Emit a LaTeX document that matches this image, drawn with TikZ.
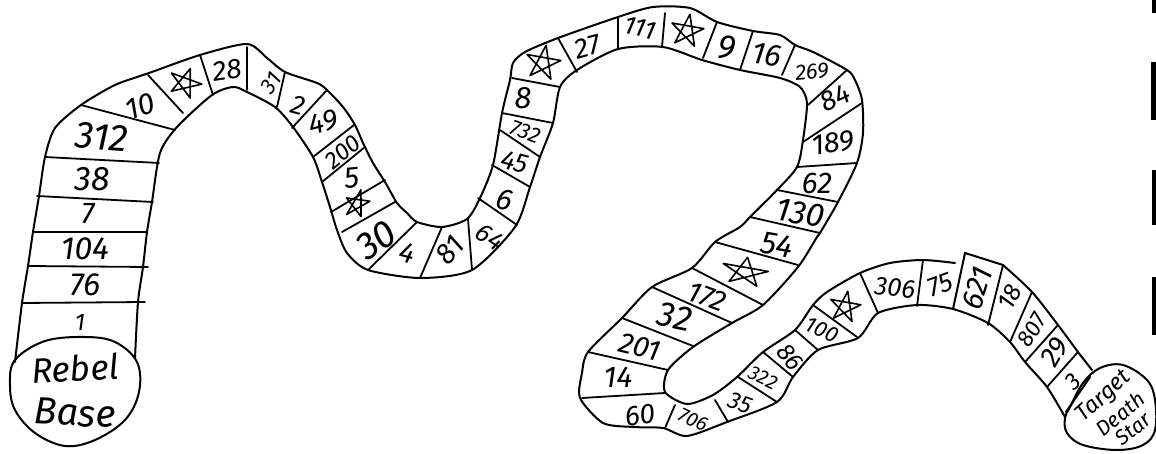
\documentclass[tikz,border=0pt]{standalone}
\usepackage{fontspec}
\setmainfont{Fira Sans}
\newcommand{\lab}[6]{\node[lbl,rotate=#5] (#1) at (#2,#3) {\fontsize{#4}{#4}\selectfont #6};}
\newcommand{\pentagram}[5]{\draw[ink,line width=1.6pt,shift={(#1,#2)},rotate=#4,yscale=#5] (90:#3pt) -- (234:#3pt) -- (18:#3pt) -- (162:#3pt) -- (306:#3pt) -- cycle;}
\tikzset{
  ink/.style={draw=black,line width=2pt,line join=round,line cap=round},
  lbl/.style={inner sep=0pt,font=\itshape,text=black},
  rung/.style={ink,line width=1.8pt},
  edgebar/.style={fill=black,draw=none}
}
\begin{document}
\begin{tikzpicture}[x=1pt,y=-1pt]
\useasboundingbox (0,0) rectangle (1156,454);
% outer edge of the track
\draw[ink] plot[smooth,tension=0.45] coordinates {
 (15,362)(22,303)(28,266)(33,232)(39,196)(45,157)(55,128)(81,105)(115,85)(149,73)(200,55)(247,44)
 (267,58)(285,72)(317,83)(327,90)(343,107)(355,125)(363,143)(373,163)(385,182)(397,203)(407,213)(417,222)
 (442,227)(467,219)(480,198)(493,165)(502,113)(510,80)(513,63)(525,52)(558,38)(618,17)(653,7)(690,8)
 (717,22)(753,31)(780,35)(795,45)(813,52)(847,70)(855,80)(862,100)(863,133)(857,163)(838,202)(820,233)
 (817,237)(798,267)(763,305)(732,323)(693,347)(668,370)(665,392)(687,404)(713,395)(737,377)(763,352)(795,330)
 (813,305)(827,292)(860,273)(890,263)(923,260)(955,263)};
\draw[ink] (965,253) -- (1003,265);
\draw[ink] (953,309) -- (965,253);
\draw[ink] plot[smooth,tension=0.45] coordinates {(1003,265)(1032,292)(1058,325)(1078,352)(1092,370)};
% inner edge of the track
\draw[ink] plot[smooth,tension=0.45] coordinates {
 (135,358)(138,302)(143,267)(147,232)(152,202)(160,153)(177,127)(212,95)(233,87)(247,92)(275,107)(293,127)
 (313,157)(322,182)(330,207)(337,230)(347,253)(368,270)(420,278)(472,270)(515,227)(530,187)(540,157)
 (553,123)(560,87)(577,70)(618,49)(663,47)(702,60)(740,70)(780,78)(800,87)(807,103)(803,140)(797,167)
 (777,190)(750,217)(740,227)(715,242)(692,268)(652,287)(622,318)(588,352)(582,373)(580,398)(603,423)
 (633,427)(663,428)(687,436)(727,422)(777,402)(793,377)(818,350)(858,338)(878,313)(917,305)(953,309)(988,323)
 (1010,342)(1025,362)(1047,387)(1065,417)};
% cross lines
\foreach \a/\b/\c/\d in {22/303/145/302,28/266/148/267,33/232/147/232,37/196/153/202,45/157/159/163,81/105/175/130,
 148/75/183/113,200/55/213/95,247/47/247/90,285/72/277/107,327/90/292/128,354/125/313/157,365/147/322/182,
 385/180/331/212,395/202/342/232,417/222/368/270,442/227/420/278,468/219/472/270,478/198/517/225,492/165/530/187,
 500/130/540/157,502/113/553/123,512/78/560/87,558/38/577/72,618/17/618/49,665/13/662/47,717/22/703/58,753/31/740/70,
 795/45/782/75,847/70/808/105,862/103/803/142,857/163/797/167,838/202/777/190,820/233/750/217,798/265/715/242,
 763/305/692/268,732/323/652/287,693/346/622/318,668/370/588/352,665/393/582/398,675/405/665/428,715/400/728/422,
 738/377/777/402,763/352/793/377,795/330/818/350,813/305/857/337,860/273/878/313,923/260/917/306,1003/265/988/325,
 1032/292/1010/342,1058/325/1025/362,1078/352/1047/387}
 {\draw[rung] (\a,\b) -- (\c,\d);}
% end circles
\draw[ink] plot[smooth cycle,tension=0.6] coordinates {(15,360)(45,341)(85,337)(115,342)(137,362)(139,392)(125,420)(95,440)(65,446)(35,433)(15,410)(10,385)};
\draw[ink] plot[smooth cycle,tension=0.6] coordinates {(1065,418)(1070,407)(1083,383)(1100,368)(1123,365)(1147,380)(1155,400)(1155,430)(1143,445)(1117,450)(1083,445)(1067,433)};
\draw[ink] (1066,412) -- (1090,377);
% scan marks at the right edge
\fill[edgebar] (1152,0) rectangle (1156,13);
\fill[edgebar] (1151,62) rectangle (1156,120);
\fill[edgebar] (1152,170) rectangle (1156,225);
\fill[edgebar] (1152,277) rectangle (1156,335);
% stars
\pentagram{185}{83}{17}{-20}{0.9}
\pentagram{357}{204}{15}{60}{0.8}
\pentagram{543}{63}{18}{-10}{1}
\pentagram{687}{31}{17}{-10}{1}
\pentagram{745}{272}{24}{-10}{0.62}
\pentagram{845}{307}{16}{-10}{1}
% labels
\lab{n1}{80}{322}{24}{0}{1}
\lab{n76}{85}{285}{32}{0}{76}
\lab{n104}{85}{249}{32}{0}{104}
\lab{n7}{88}{214}{30}{0}{7}
\lab{n38}{92}{179}{34}{0}{38}
\lab{n312}{102}{137}{38}{-4}{312}
\lab{n10}{140}{106}{30}{18}{10}
\lab{n28}{227}{70}{28}{8}{28}
\lab{n31}{271}{83}{22}{55}{31}
\lab{n2}{298}{105}{27}{-15}{2}
\lab{n49}{323}{122}{29}{15}{49}
\lab{n200}{343}{152}{24}{40}{200}
\lab{n5}{352}{178}{30}{5}{5}
\lab{n30}{376}{240}{38}{35}{30}
\lab{n4}{407}{253}{29}{-15}{4}
\lab{n81}{450}{250}{29}{50}{81}
\lab{n64}{490}{237}{26}{-35}{64}
\lab{n6}{505}{200}{30}{-15}{6}
\lab{n45}{515}{162}{27}{-15}{45}
\lab{n732}{525}{132}{22}{-20}{732}
\lab{n8}{523}{98}{31}{0}{8}
\lab{n27}{587}{47}{28}{15}{27}
\lab{n111}{640}{28}{26}{-15}{111}
\lab{n9}{727}{48}{34}{-8}{9}
\lab{n16}{767}{55}{31}{-10}{16}
\lab{n269}{812}{72}{22}{5}{269}
\lab{n84}{835}{98}{28}{25}{84}
\lab{n189}{833}{143}{29}{8}{189}
\lab{n62}{817}{183}{30}{0}{62}
\lab{n130}{800}{213}{33}{-10}{130}
\lab{n54}{777}{245}{32}{-10}{54}
\lab{n172}{707}{297}{29}{-20}{172}
\lab{n32}{675}{317}{35}{-12}{32}
\lab{n201}{640}{347}{29}{-14}{201}
\lab{n14}{618}{377}{30}{0}{14}
\lab{n60}{640}{415}{28}{8}{60}
\lab{n706}{693}{420}{20}{-25}{706}
\lab{n35}{740}{403}{24}{-20}{35}
\lab{n322}{763}{378}{20}{-25}{322}
\lab{n86}{790}{357}{25}{-50}{86}
\lab{n100}{822}{330}{22}{-25}{100}
\lab{n306}{895}{288}{26}{-5}{306}
\lab{n75}{940}{285}{27}{20}{75}
\lab{n621}{977}{288}{30}{72}{621}
\lab{n18}{1010}{297}{25}{62}{18}
\lab{n807}{1032}{330}{23}{60}{807}
\lab{n29}{1055}{352}{28}{60}{29}
\lab{n3}{1073}{382}{24}{45}{3}
\lab{rebel}{75}{368}{35}{3}{Rebel}
\lab{base}{75}{413}{38}{-3}{Base}
\lab{target}{1104}{397}{23}{42}{Target}
\lab{death}{1120}{414}{21}{40}{Death}
\lab{star}{1133}{429}{21}{40}{Star}
\end{tikzpicture}
\end{document}
